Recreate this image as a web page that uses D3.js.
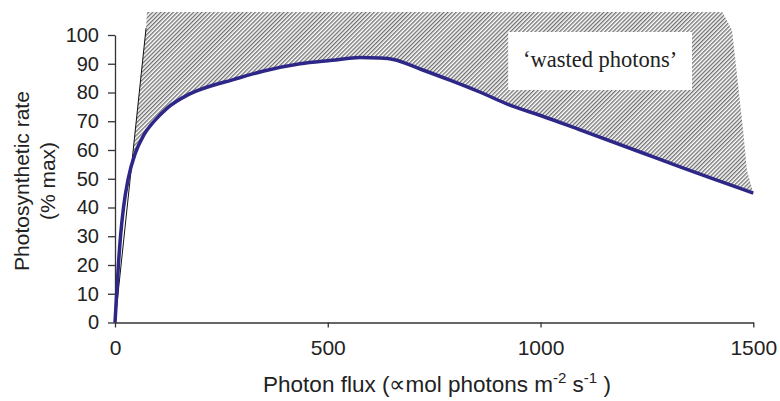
<!DOCTYPE html>
<html>
<head>
<meta charset="utf-8">
<title>photon flux</title>
<script src="https://d3js.org/d3.v7.min.js"></script>
<style>
  body { margin: 0; background: #fff; }
  text { font-family: "Liberation Sans", Arial, sans-serif; fill: #222; }
</style>
</head>
<body>
<div id="chart"></div>
<script>

  // blue curve: photosynthetic rate vs photon flux
  const fluxVals = [0, 4, 8, 13, 20, 31, 48, 67, 92, 122, 169, 200, 278, 350, 435, 510, 576, 620, 654, 720, 787, 860, 928, 1000, 1093, 1234, 1328, 1500]
  const rateVals = [0, 10, 20, 30, 40, 50, 59, 65, 70, 74.5, 79, 81, 84.5, 87.5, 90, 91.2, 92.2, 92, 91.5, 88, 84.3, 80, 75.6, 72, 67, 59.3, 54.1, 45]

  // initial slope line (black)
  const slopeX = [0, 73]
  const slopeY = [0, 102.4]

  // edge of the 'wasted photons' hatched area (closed back to the origin below the curve)
  const wasteX = [0, 73, 75, 1427, 1450, 1476, 1485, 1500]
  const wasteY = [0, 102.4, 108, 108, 101.7, 67, 53, 45]

  const xTicks = [0, 500, 1000, 1500]
  const yTicks = [0, 10, 20, 30, 40, 50, 60, 70, 80, 90, 100]

  const width = 780
  const height = 401

  const x = d3.scaleLinear().domain([0, 1500]).range([115, 753.3])
  const y = d3.scaleLinear().domain([0, 100]).range([322.5, 35])

  const svg = d3.select("#chart").append("svg")
    .attr("width", width)
    .attr("height", height)

  // hatch pattern
  const pat = svg.append("defs").append("pattern")
    .attr("id", "hatch")
    .attr("patternUnits", "userSpaceOnUse")
    .attr("width", 2.9)
    .attr("height", 8)
    .attr("patternTransform", "rotate(45)")
  pat.append("rect").attr("width", 2.9).attr("height", 8).attr("fill", "#fff")
  pat.append("line")
    .attr("x1", 0.7).attr("y1", 0).attr("x2", 0.7).attr("y2", 8)
    .attr("stroke", "#606060")
    .attr("stroke-width", 1.2)

  const wastePts = wasteX.map((d, i) => [x(d), y(wasteY[i])])
  svg.append("path")
    .attr("d", d3.line()(wastePts) + "Z")
    .attr("fill", "url(#hatch)")

  const pts = fluxVals.map((d, i) => [d, rateVals[i]])

  // white under the curve
  svg.append("path")
    .datum(pts)
    .attr("d", d3.area().x(d => x(d[0])).y0(y(0)).y1(d => y(d[1])).curve(d3.curveMonotoneX))
    .attr("fill", "#fff")

  // label box
  const boxX0 = x(924), boxX1 = x(1356)
  svg.append("rect")
    .attr("x", boxX0).attr("y", 32)
    .attr("width", boxX1 - boxX0).attr("height", 58)
    .attr("fill", "#fff")
  svg.append("text")
    .attr("x", (boxX0 + boxX1) / 2)
    .attr("y", 67)
    .attr("text-anchor", "middle")
    .style("font-family", "'Liberation Serif', 'Times New Roman', serif")
    .style("font-size", "22.5px")
    .text("\u2018wasted photons\u2019")

  // axes
  const xAxis = svg.append("g")
    .attr("transform", `translate(0,${y(0)})`)
    .call(d3.axisBottom(x).tickValues(xTicks).tickFormat(d3.format("d"))
      .tickSize(5).tickSizeOuter(0).tickPadding(13))
  xAxis.selectAll("text").style("font-size", "21px")

  const yAxis = svg.append("g")
    .attr("transform", `translate(${x(0)},0)`)
    .call(d3.axisLeft(y).tickValues(yTicks).tickSize(7).tickSizeOuter(0).tickPadding(9))
  yAxis.selectAll("text").style("font-size", "20px")

  svg.selectAll(".domain, .tick line")
    .attr("stroke", "#333")
    .attr("stroke-width", 1.3)

  // slope line
  svg.append("line")
    .attr("x1", x(slopeX[0])).attr("y1", y(slopeY[0]))
    .attr("x2", x(slopeX[1])).attr("y2", y(slopeY[1]))
    .attr("stroke", "#111")
    .attr("stroke-width", 1)

  // curve
  svg.append("path")
    .datum(pts)
    .attr("d", d3.line().x(d => x(d[0])).y(d => y(d[1])).curve(d3.curveMonotoneX))
    .attr("fill", "none")
    .attr("stroke", "#2e2788")
    .attr("stroke-width", 3.5)

  // axis titles
  const yt = svg.append("text")
    .attr("transform", "translate(29,181) rotate(-90)")
    .attr("text-anchor", "middle")
    .style("font-size", "21px")
  yt.append("tspan").attr("x", 0).attr("y", 0).text("Photosynthetic rate")
  yt.append("tspan").attr("x", 0).attr("y", 26).text("(% max)")

  const xt = svg.append("text")
    .attr("x", 437)
    .attr("y", 392)
    .attr("text-anchor", "middle")
    .style("font-size", "22.5px")
  xt.append("tspan").text("Photon flux (\u221dmol photons m")
  xt.append("tspan").attr("dy", -9).style("font-size", "15px").text("-2")
  xt.append("tspan").attr("dy", 9).text(" s")
  xt.append("tspan").attr("dy", -9).style("font-size", "15px").text("-1")
  xt.append("tspan").attr("dy", 9).text(" )")

</script>
</body>
</html>
